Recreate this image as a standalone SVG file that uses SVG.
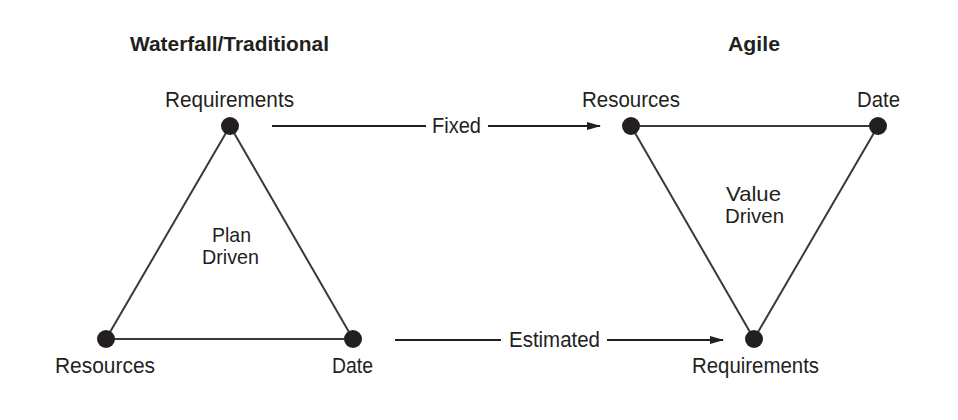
<svg xmlns="http://www.w3.org/2000/svg" width="958" height="420" viewBox="0 0 958 420">
<style>
text{font-family:"Liberation Sans",Arial,sans-serif;font-size:22px;fill:#231f20;}
.t{font-weight:bold;font-size:21px;}
.c{font-size:21px;}
.edge{stroke:#3a3a3a;stroke-width:2;fill:none;}
.arr{stroke:#231f20;stroke-width:2;fill:none;}
.dot{fill:#231f20;}
</style>
<defs>
<marker id="ah" markerWidth="14" markerHeight="10" refX="13" refY="5" orient="auto" markerUnits="userSpaceOnUse">
<path d="M0,1 L14,5 L0,9 Z" fill="#231f20"/>
</marker>
</defs>
<rect width="958" height="420" fill="#fff"/>
<text class="t" x="130" y="51" textLength="199" lengthAdjust="spacingAndGlyphs">Waterfall/Traditional</text>
<text class="t" x="728" y="51" textLength="52" lengthAdjust="spacingAndGlyphs">Agile</text>
<g id="edges">
<path class="edge" d="M230,126 L106,339 L353,339 Z"/>
<path class="edge" d="M631,126 L878,126 L754,339 Z"/>
</g>
<g id="connectors">
<line class="arr" x1="272" y1="126" x2="426" y2="126"/>
<line class="arr" x1="488" y1="126" x2="600" y2="126" marker-end="url(#ah)"/>
<text x="432" y="133" textLength="49" lengthAdjust="spacingAndGlyphs">Fixed</text>
<line class="arr" x1="395" y1="340" x2="501" y2="340"/>
<line class="arr" x1="607" y1="340" x2="723" y2="340" marker-end="url(#ah)"/>
<text x="509" y="347" textLength="91" lengthAdjust="spacingAndGlyphs">Estimated</text>
</g>
<g id="wf-requirements">
<circle class="dot" cx="230" cy="126" r="9"/>
<text x="165" y="107" textLength="129" lengthAdjust="spacingAndGlyphs">Requirements</text>
</g>
<g id="wf-resources">
<circle class="dot" cx="106" cy="339" r="9"/>
<text x="55" y="373" textLength="100" lengthAdjust="spacingAndGlyphs">Resources</text>
</g>
<g id="wf-date">
<circle class="dot" cx="353" cy="339" r="9"/>
<text x="332" y="373" textLength="41" lengthAdjust="spacingAndGlyphs">Date</text>
</g>
<g id="wf-center">
<text class="c" x="212" y="242" textLength="39" lengthAdjust="spacingAndGlyphs">Plan</text>
<text class="c" x="202" y="264" textLength="57" lengthAdjust="spacingAndGlyphs">Driven</text>
</g>
<g id="ag-resources">
<circle class="dot" cx="631" cy="126" r="9"/>
<text x="582" y="107" textLength="98" lengthAdjust="spacingAndGlyphs">Resources</text>
</g>
<g id="ag-date">
<circle class="dot" cx="878" cy="126" r="9"/>
<text x="857" y="107" textLength="43" lengthAdjust="spacingAndGlyphs">Date</text>
</g>
<g id="ag-requirements">
<circle class="dot" cx="754" cy="339" r="9"/>
<text x="692" y="373" textLength="127" lengthAdjust="spacingAndGlyphs">Requirements</text>
</g>
<g id="ag-center">
<text class="c" x="726" y="201" textLength="55" lengthAdjust="spacingAndGlyphs">Value</text>
<text class="c" x="725" y="223" textLength="59" lengthAdjust="spacingAndGlyphs">Driven</text>
</g>
</svg>
